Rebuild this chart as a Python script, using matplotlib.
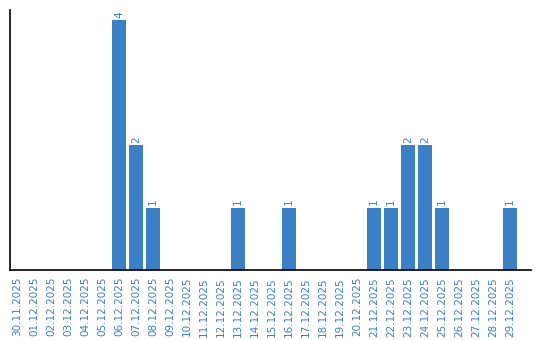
import matplotlib
matplotlib.use("Agg")
import matplotlib.pyplot as plt

dates = ["30.11.2025"] + [f"{d:02d}.12.2025" for d in range(1, 30)]
values = [0, 0, 0, 0, 0, 0, 4, 2, 1, 0, 0, 0, 0, 1, 0, 0, 1, 0, 0, 0, 0, 1, 1, 2, 2, 1, 0, 0, 0, 1]

color = "#3b7fc4"
fig = plt.figure(figsize=(5.4, 3.4), dpi=100)
ax = fig.add_axes([10/540, 70/340, 521/540, 260/340])
x = list(range(len(dates)))
bars = ax.bar(x, values, width=0.82, color=color)
for xi, v in zip(x, values):
    if v > 0:
        ax.text(xi, v + 0.04, str(v), rotation=90, ha="center", va="bottom",
                fontsize=7.5, color=color)
ax.set_xlim(-0.41, 30.235)
ax.set_ylim(0, 4.16)
ax.set_xticks(x)
ax.set_xticklabels(dates, rotation=90, fontsize=7.5, color=color)
ax.tick_params(axis="x", length=0, pad=5)
ax.set_yticks([])
for s in ["top", "right"]:
    ax.spines[s].set_visible(False)
ax.spines["left"].set_linewidth(1.2)
ax.spines["bottom"].set_linewidth(1.2)
fig.savefig("out.png", dpi=100)
